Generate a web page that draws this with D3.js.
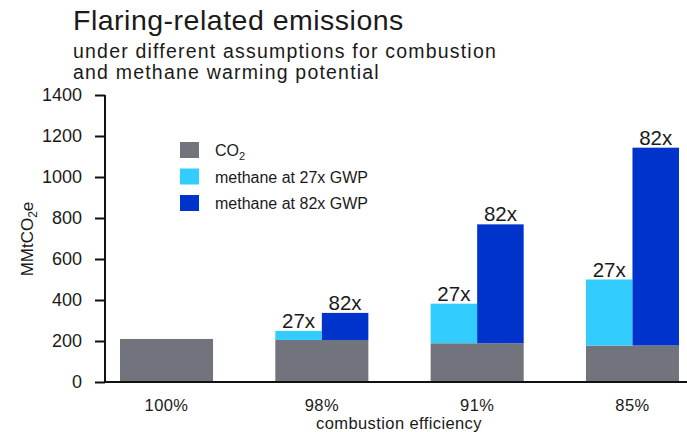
<!DOCTYPE html>
<html>
<head>
<meta charset="utf-8">
<script src="https://cdn.jsdelivr.net/npm/d3@7"></script>
<style>
  html, body { margin: 0; padding: 0; background: #fff; }
  svg { display: block; font-family: "Liberation Sans", Arial, sans-serif; }
</style>
</head>
<body>
<svg id="chart" width="687" height="432"></svg>
<script>
// Combustion-efficiency scenarios
const categories = ["100%", "98%", "91%", "85%"];
// CO2 from flaring (MMtCO2e)
const co2 = [210, 205, 189, 178];
// Extra methane on top of CO2, at 27x and 82x warming potential (MMtCO2e)
const methane27 = [0, 44, 193, 322];
const methane82 = [0, 132, 580, 965];
const yTicks = [0, 200, 400, 600, 800, 1000, 1200, 1400];
const legendLabels = ["CO2", "methane at 27x GWP", "methane at 82x GWP"];
const barLabels = ["27x", "82x"];

const colors = { co2: "#72747d", m27: "#33ccff", m82: "#0033cc" };
const ink = "#1a1a1a";
const font = "Liberation Sans, Arial, sans-serif";

const svg = d3.select("#chart");

const x = d3.scaleBand().domain(categories).range([120, 679]).paddingInner(0.401).paddingOuter(0);
const y = d3.scaleLinear().domain([0, 1400]).range([382, 95]);

// Title block
svg.append("text").attr("x", 73).attr("y", 30).attr("font-size", 28.5).attr("fill", ink)
  .attr("letter-spacing", 0.5).text("Flaring-related emissions");
svg.append("text").attr("x", 73).attr("y", 57.5).attr("font-size", 19.5).attr("fill", ink)
  .attr("letter-spacing", 1.2).text("under different assumptions for combustion");
svg.append("text").attr("x", 73).attr("y", 79).attr("font-size", 19.5).attr("fill", ink)
  .attr("letter-spacing", 1.2).text("and methane warming potential");

// Bars
const g = svg.append("g");
categories.forEach((c, i) => {
  const x0 = x(c), w = x.bandwidth();
  g.append("rect").attr("x", x0).attr("width", w)
    .attr("y", y(co2[i])).attr("height", y(0) - y(co2[i])).attr("fill", colors.co2);
  if (methane27[i] > 0) {
    const half = w / 2;
    const t27 = co2[i] + methane27[i], t82 = co2[i] + methane82[i];
    g.append("rect").attr("x", x0).attr("width", half)
      .attr("y", y(t27)).attr("height", y(co2[i]) - y(t27)).attr("fill", colors.m27);
    g.append("rect").attr("x", x0 + half).attr("width", half)
      .attr("y", y(t82)).attr("height", y(co2[i]) - y(t82)).attr("fill", colors.m82);
    g.append("text").attr("x", x0 + half / 2).attr("y", y(t27) - 3).attr("text-anchor", "middle")
      .attr("font-size", 20.5).attr("fill", ink).text(barLabels[0]);
    g.append("text").attr("x", x0 + half * 1.5).attr("y", y(t82) - 3).attr("text-anchor", "middle")
      .attr("font-size", 20.5).attr("fill", ink).text(barLabels[1]);
  }
});

// Y axis
const yAxis = svg.append("g").attr("transform", "translate(105,0)")
  .call(d3.axisLeft(y).tickValues(yTicks).tickFormat(d3.format("d")).tickSize(10).tickPadding(13));
yAxis.select(".domain").attr("d", `M0,${y(1400)}V${y(0)}`).attr("stroke", "#111").attr("stroke-width", 2);
yAxis.selectAll(".tick line").attr("stroke", "#111").attr("stroke-width", 2);
yAxis.selectAll(".tick text").attr("font-size", 18).attr("fill", ink).attr("font-family", font);

// X axis baseline and category labels
const xAxis = svg.append("g").attr("transform", `translate(0,${y(0)})`)
  .call(d3.axisBottom(x).tickSize(0));
xAxis.select(".domain").attr("d", "M104,0H687").attr("stroke", "#111").attr("stroke-width", 2);
xAxis.selectAll(".tick text").attr("font-size", 16.5).attr("fill", ink).attr("font-family", font)
  .attr("dy", null).attr("y", 411 - y(0)).attr("letter-spacing", 0.4);

// Axis titles
const yt = svg.append("text").attr("transform", "translate(33,239) rotate(-90)")
  .attr("text-anchor", "middle").attr("font-size", 17).attr("fill", ink);
yt.append("tspan").text("MMtCO");
yt.append("tspan").attr("font-size", 12).attr("dy", 4).text("2");
yt.append("tspan").attr("dy", -4).text("e");

svg.append("text").attr("x", 399).attr("y", 429).attr("text-anchor", "middle")
  .attr("font-size", 16.5).attr("letter-spacing", 0.4).attr("fill", ink).text("combustion efficiency");

// Legend
const legendColors = [colors.co2, colors.m27, colors.m82];
const lg = svg.append("g");
legendLabels.forEach((lab, i) => {
  const cy = 150 + i * 26.5;
  lg.append("rect").attr("x", 180).attr("y", cy - 8).attr("width", 19).attr("height", 16)
    .attr("fill", legendColors[i]);
  const t = lg.append("text").attr("x", 215).attr("y", cy + 6).attr("font-size", 16).attr("fill", ink);
  if (i === 0) {
    t.append("tspan").text("CO");
    t.append("tspan").attr("font-size", 11).attr("dy", 4).text("2");
  } else {
    t.text(lab);
  }
});
</script>
</body>
</html>
